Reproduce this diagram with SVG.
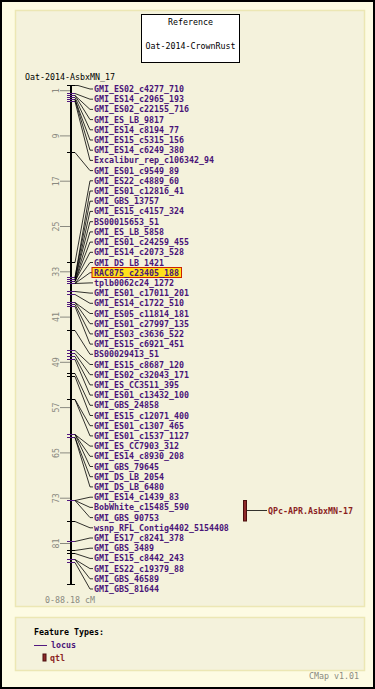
<svg xmlns="http://www.w3.org/2000/svg" width="375" height="689" viewBox="0 0 375 689">
<style>
text { font-family: "DejaVu Sans Mono", "Liberation Mono", monospace; font-size: 8.3px; }
.lbl { fill: #4a1478; }
.blk { fill: #000; }
.gry { fill: #8a8a80; }
.scl { fill: #8a8a80; text-anchor: middle; }
.con path { fill: none; stroke: #000; stroke-width: 0.8; }
.ft { stroke: #000; stroke-width: 1; }
.fp { stroke: #52197f; stroke-width: 1; }
.mt { stroke: #8a8a80; stroke-width: 1; }
.panel { fill: #f4f2dc; stroke: #ece7b4; stroke-width: 1.5; }
</style>
<rect x="1" y="1" width="373" height="687" fill="#fdfbe3" stroke="#000" stroke-width="2"/>
<rect class="panel" x="15.5" y="10.5" width="349" height="596"/>
<rect class="panel" x="15.5" y="617.5" width="349" height="53"/>

<g id="reference">
<rect x="141.5" y="14.5" width="98" height="48" fill="#fff" stroke="#000" stroke-width="1"/>
<text class="blk" x="190.5" y="25" text-anchor="middle">Reference</text>
<text class="blk" x="190.5" y="49" text-anchor="middle">Oat-2014-CrownRust</text>
</g>

<g id="map">
<text class="blk" x="25" y="80">Oat-2014-AsbxMN_17</text>
<rect x="70" y="85" width="2" height="500" fill="#000"/>
<line x1="67" y1="85.5" x2="75" y2="85.5" stroke="#000" stroke-width="1"/>
<line x1="67" y1="584.5" x2="75" y2="584.5" stroke="#000" stroke-width="1"/>
<text class="gry" x="45" y="603">0-88.18 cM</text>
</g>

<g id="scale">
<line class="mt" x1="60" y1="90.7" x2="70" y2="90.7"/><text class="scl" transform="translate(58.5,90.7) rotate(-90)">1</text>
<line class="mt" x1="60" y1="135.9" x2="70" y2="135.9"/><text class="scl" transform="translate(58.5,135.9) rotate(-90)">9</text>
<line class="mt" x1="60" y1="181.2" x2="70" y2="181.2"/><text class="scl" transform="translate(58.5,181.2) rotate(-90)">17</text>
<line class="mt" x1="60" y1="226.5" x2="70" y2="226.5"/><text class="scl" transform="translate(58.5,226.5) rotate(-90)">25</text>
<line class="mt" x1="60" y1="271.8" x2="70" y2="271.8"/><text class="scl" transform="translate(58.5,271.8) rotate(-90)">33</text>
<line class="mt" x1="60" y1="317.1" x2="70" y2="317.1"/><text class="scl" transform="translate(58.5,317.1) rotate(-90)">41</text>
<line class="mt" x1="60" y1="362.3" x2="70" y2="362.3"/><text class="scl" transform="translate(58.5,362.3) rotate(-90)">49</text>
<line class="mt" x1="60" y1="407.6" x2="70" y2="407.6"/><text class="scl" transform="translate(58.5,407.6) rotate(-90)">57</text>
<line class="mt" x1="60" y1="452.9" x2="70" y2="452.9"/><text class="scl" transform="translate(58.5,452.9) rotate(-90)">65</text>
<line class="mt" x1="60" y1="498.2" x2="70" y2="498.2"/><text class="scl" transform="translate(58.5,498.2) rotate(-90)">73</text>
<line class="mt" x1="60" y1="543.5" x2="70" y2="543.5"/><text class="scl" transform="translate(58.5,543.5) rotate(-90)">81</text>
</g>

<g id="features">
<line class="fp" x1="67" y1="93.5" x2="75" y2="93.5"/>
<line class="fp" x1="67" y1="95.5" x2="75" y2="95.5"/>
<line class="fp" x1="67" y1="97.5" x2="75" y2="97.5"/>
<line class="fp" x1="67" y1="99.5" x2="75" y2="99.5"/>
<line class="fp" x1="67" y1="101.5" x2="75" y2="101.5"/>
<line class="ft" x1="67" y1="152.5" x2="75" y2="152.5"/>
<line class="ft" x1="67" y1="262.5" x2="75" y2="262.5"/>
<line class="fp" x1="67" y1="277.5" x2="75" y2="277.5"/>
<line class="fp" x1="67" y1="279.5" x2="75" y2="279.5"/>
<line class="fp" x1="67" y1="281.5" x2="75" y2="281.5"/>
<line class="fp" x1="67" y1="283.5" x2="75" y2="283.5"/>
<line class="fp" x1="67" y1="291.5" x2="75" y2="291.5"/>
<line class="fp" x1="67" y1="294.5" x2="75" y2="294.5"/>
<line class="fp" x1="67" y1="302.5" x2="75" y2="302.5"/>
<line class="fp" x1="67" y1="304.5" x2="75" y2="304.5"/>
<line class="fp" x1="67" y1="306.5" x2="75" y2="306.5"/>
<line class="ft" x1="67" y1="330.5" x2="75" y2="330.5"/>
<line class="fp" x1="67" y1="350.5" x2="75" y2="350.5"/>
<line class="fp" x1="67" y1="353.5" x2="75" y2="353.5"/>
<line class="fp" x1="67" y1="356.5" x2="75" y2="356.5"/>
<line class="fp" x1="67" y1="359.5" x2="75" y2="359.5"/>
<line class="ft" x1="67" y1="373.5" x2="75" y2="373.5"/>
<line class="ft" x1="67" y1="376.5" x2="75" y2="376.5"/>
<line class="ft" x1="67" y1="399.5" x2="75" y2="399.5"/>
<line class="fp" x1="67" y1="434.5" x2="75" y2="434.5"/>
<line class="fp" x1="67" y1="437.5" x2="75" y2="437.5"/>
<line class="fp" x1="67" y1="500.5" x2="75" y2="500.5"/>
<line class="ft" x1="67" y1="521.5" x2="75" y2="521.5"/>
<line class="fp" x1="67" y1="541.5" x2="75" y2="541.5"/>
<line class="ft" x1="67" y1="550.5" x2="75" y2="550.5"/>
<line class="ft" x1="67" y1="553.5" x2="75" y2="553.5"/>
<line class="fp" x1="67" y1="559.5" x2="75" y2="559.5"/>
<line class="fp" x1="67" y1="562.5" x2="75" y2="562.5"/>
</g>

<g id="connectors" class="con">
<path d="M72,85.5 L78,85.5 L90,89 L93,89"/>
<path d="M75,93.5 L90,99.2 L93,99.2"/>
<path d="M75,95.5 L90,109.4 L93,109.4"/>
<path d="M75,95.5 L90,119.6 L93,119.6"/>
<path d="M75,97.5 L90,129.8 L93,129.8"/>
<path d="M75,99.5 L90,140 L93,140"/>
<path d="M75,99.5 L90,150.2 L93,150.2"/>
<path d="M75,101.5 L90,160.4 L93,160.4"/>
<path d="M75,152.5 L90,170.6 L93,170.6"/>
<path d="M75,262.5 L90,180.8 L93,180.8"/>
<path d="M75,277.5 L90,191 L93,191"/>
<path d="M75,277.5 L90,201.2 L93,201.2"/>
<path d="M75,279.5 L90,211.4 L93,211.4"/>
<path d="M75,279.5 L90,221.7 L93,221.7"/>
<path d="M75,281.5 L90,231.9 L93,231.9"/>
<path d="M75,281.5 L90,242.1 L93,242.1"/>
<path d="M75,281.5 L90,252.3 L93,252.3"/>
<path d="M75,283.5 L90,262.5 L93,262.5"/>
<path d="M75,283.5 L90,272.7 L92,272.7"/>
<path d="M75,283.5 L90,282.9 L93,282.9"/>
<path d="M75,291.5 L90,293.1 L93,293.1"/>
<path d="M75,294.5 L90,303.3 L93,303.3"/>
<path d="M75,302.5 L90,313.5 L93,313.5"/>
<path d="M75,302.5 L90,323.7 L93,323.7"/>
<path d="M75,304.5 L90,333.9 L93,333.9"/>
<path d="M75,306.5 L90,344.1 L93,344.1"/>
<path d="M75,330.5 L90,354.3 L93,354.3"/>
<path d="M75,350.5 L90,364.5 L93,364.5"/>
<path d="M75,353.5 L90,374.7 L93,374.7"/>
<path d="M75,356.5 L90,384.9 L93,384.9"/>
<path d="M75,359.5 L90,395.1 L93,395.1"/>
<path d="M75,373.5 L90,405.3 L93,405.3"/>
<path d="M75,376.5 L90,415.5 L93,415.5"/>
<path d="M75,399.5 L90,425.7 L93,425.7"/>
<path d="M75,399.5 L90,435.9 L93,435.9"/>
<path d="M75,434.5 L90,446.1 L93,446.1"/>
<path d="M75,434.5 L90,456.3 L93,456.3"/>
<path d="M75,434.5 L90,466.5 L93,466.5"/>
<path d="M75,437.5 L90,476.7 L93,476.7"/>
<path d="M75,437.5 L90,486.9 L93,486.9"/>
<path d="M75,500.5 L90,497.2 L93,497.2"/>
<path d="M75,500.5 L90,507.4 L93,507.4"/>
<path d="M75,500.5 L90,517.6 L93,517.6"/>
<path d="M75,521.5 L90,527.8 L93,527.8"/>
<path d="M75,541.5 L90,538 L93,538"/>
<path d="M75,550.5 L90,548.2 L93,548.2"/>
<path d="M75,553.5 L90,558.4 L93,558.4"/>
<path d="M75,559.5 L90,568.6 L93,568.6"/>
<path d="M75,559.5 L90,578.8 L93,578.8"/>
<path d="M75,562.5 L90,589 L93,589"/>
<path d="M247,510.5 L267,510.5"/>
</g>

<g id="labels" font-weight="bold">
<g id="n1"><text class="lbl" x="94" y="92">GMI_ES02_c4277_710</text></g>
<g id="n2"><text class="lbl" x="94" y="102.2">GMI_ES14_c2965_193</text></g>
<g id="n3"><text class="lbl" x="94" y="112.4">GMI_ES02_c22155_716</text></g>
<g id="n4"><text class="lbl" x="94" y="122.6">GMI_ES_LB_9817</text></g>
<g id="n5"><text class="lbl" x="94" y="132.8">GMI_ES14_c8194_77</text></g>
<g id="n6"><text class="lbl" x="94" y="143">GMI_ES15_c5315_156</text></g>
<g id="n7"><text class="lbl" x="94" y="153.2">GMI_ES14_c6249_380</text></g>
<g id="n8"><text class="lbl" x="94" y="163.4">Excalibur_rep_c106342_94</text></g>
<g id="n9"><text class="lbl" x="94" y="173.6">GMI_ES01_c9549_89</text></g>
<g id="n10"><text class="lbl" x="94" y="183.8">GMI_ES22_c4889_60</text></g>
<g id="n11"><text class="lbl" x="94" y="194">GMI_ES01_c12816_41</text></g>
<g id="n12"><text class="lbl" x="94" y="204.2">GMI_GBS_13757</text></g>
<g id="n13"><text class="lbl" x="94" y="214.4">GMI_ES15_c4157_324</text></g>
<g id="n14"><text class="lbl" x="94" y="224.7">BS00015653_51</text></g>
<g id="n15"><text class="lbl" x="94" y="234.9">GMI_ES_LB_5858</text></g>
<g id="n16"><text class="lbl" x="94" y="245.1">GMI_ES01_c24259_455</text></g>
<g id="n17"><text class="lbl" x="94" y="255.3">GMI_ES14_c2073_528</text></g>
<g id="n18"><text class="lbl" x="94" y="265.5">GMI_DS_LB_1421</text></g>
<g id="n19"><rect x="92" y="267.5" width="89.5" height="10" fill="#ffe11a" stroke="#cc2200" stroke-width="1"/><text class="lbl" x="94" y="275.7">RAC875_c23405_188</text></g>
<g id="n20"><text class="lbl" x="94" y="285.9">tplb0062c24_1272</text></g>
<g id="n21"><text class="lbl" x="94" y="296.1">GMI_ES01_c17011_201</text></g>
<g id="n22"><text class="lbl" x="94" y="306.3">GMI_ES14_c1722_510</text></g>
<g id="n23"><text class="lbl" x="94" y="316.5">GMI_ES05_c11814_181</text></g>
<g id="n24"><text class="lbl" x="94" y="326.7">GMI_ES01_c27997_135</text></g>
<g id="n25"><text class="lbl" x="94" y="336.9">GMI_ES03_c3636_522</text></g>
<g id="n26"><text class="lbl" x="94" y="347.1">GMI_ES15_c6921_451</text></g>
<g id="n27"><text class="lbl" x="94" y="357.3">BS00029413_51</text></g>
<g id="n28"><text class="lbl" x="94" y="367.5">GMI_ES15_c8687_120</text></g>
<g id="n29"><text class="lbl" x="94" y="377.7">GMI_ES02_c32043_171</text></g>
<g id="n30"><text class="lbl" x="94" y="387.9">GMI_ES_CC3511_395</text></g>
<g id="n31"><text class="lbl" x="94" y="398.1">GMI_ES01_c13432_100</text></g>
<g id="n32"><text class="lbl" x="94" y="408.3">GMI_GBS_24858</text></g>
<g id="n33"><text class="lbl" x="94" y="418.5">GMI_ES15_c12071_400</text></g>
<g id="n34"><text class="lbl" x="94" y="428.7">GMI_ES01_c1307_465</text></g>
<g id="n35"><text class="lbl" x="94" y="438.9">GMI_ES01_c1537_1127</text></g>
<g id="n36"><text class="lbl" x="94" y="449.1">GMI_ES_CC7903_312</text></g>
<g id="n37"><text class="lbl" x="94" y="459.3">GMI_ES14_c8930_208</text></g>
<g id="n38"><text class="lbl" x="94" y="469.5">GMI_GBS_79645</text></g>
<g id="n39"><text class="lbl" x="94" y="479.7">GMI_DS_LB_2054</text></g>
<g id="n40"><text class="lbl" x="94" y="489.9">GMI_DS_LB_6480</text></g>
<g id="n41"><text class="lbl" x="94" y="500.2">GMI_ES14_c1439_83</text></g>
<g id="n42"><text class="lbl" x="94" y="510.4">BobWhite_c15485_590</text></g>
<g id="n43"><text class="lbl" x="94" y="520.6">GMI_GBS_90753</text></g>
<g id="n44"><text class="lbl" x="94" y="530.8">wsnp_RFL_Contig4402_5154408</text></g>
<g id="n45"><text class="lbl" x="94" y="541">GMI_ES17_c8241_378</text></g>
<g id="n46"><text class="lbl" x="94" y="551.2">GMI_GBS_3489</text></g>
<g id="n47"><text class="lbl" x="94" y="561.4">GMI_ES15_c8442_243</text></g>
<g id="n48"><text class="lbl" x="94" y="571.6">GMI_ES22_c19379_88</text></g>
<g id="n49"><text class="lbl" x="94" y="581.8">GMI_GBS_46589</text></g>
<g id="n50"><text class="lbl" x="94" y="592">GMI_GBS_81644</text></g>
</g>

<g id="qtl">
<rect x="243.5" y="500.5" width="3" height="20.5" fill="#8e2a2a" stroke="#4a0e0e" stroke-width="1"/>
<text x="268" y="513.5" fill="#8b1f1f" font-weight="bold">QPc-APR.AsbxMN-17</text>
</g>

<g id="legend">
<text class="blk" x="34" y="635" font-weight="bold">Feature Types:</text>
<line x1="34" y1="645.5" x2="47" y2="645.5" stroke="#52197f" stroke-width="1"/>
<text class="lbl" x="51" y="648" font-weight="bold">locus</text>
<rect x="43" y="654" width="3" height="7" fill="#8e2a2a" stroke="#4a0e0e" stroke-width="1"/>
<text x="50" y="661" fill="#8b1f1f" font-weight="bold">qtl</text>
<text class="gry" x="359" y="679" text-anchor="end">CMap v1.01</text>
</g>
</svg>
